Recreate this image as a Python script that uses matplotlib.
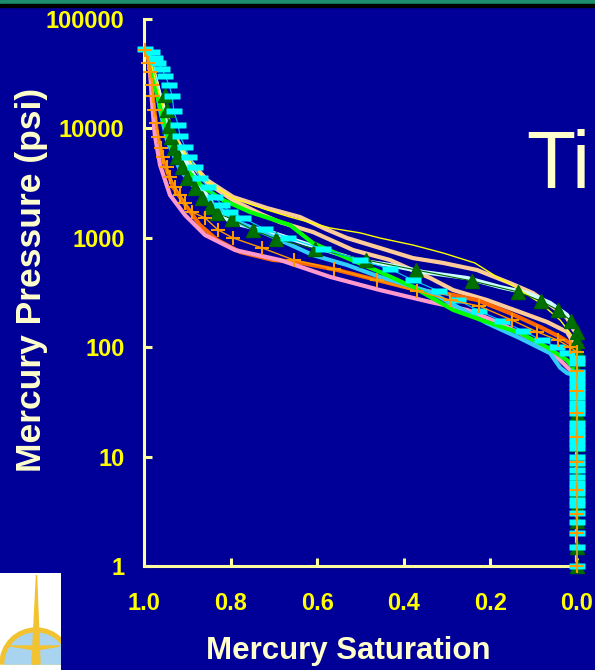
import matplotlib.pyplot as plt
import matplotlib.patches as mpatches
from matplotlib.path import Path

# ---- data ----
x_ticks = [1.0, 0.8, 0.6, 0.4, 0.2, 0.0]
x_tick_labels = ["1.0", "0.8", "0.6", "0.4", "0.2", "0.0"]
y_ticks = [1, 10, 100, 1000, 10000, 100000]
y_tick_labels = ["1", "10", "100", "1000", "10000", "100000"]

# cyan rectangle markers
cyan_x = [0.998, 0.982, 0.975, 0.968, 0.958, 0.951, 0.942, 0.935, 0.931, 0.921,
          0.917, 0.905, 0.896, 0.882, 0.871, 0.852, 0.836, 0.820, 0.801, 0.771,
          0.721, 0.667, 0.587, 0.501, 0.432, 0.379, 0.319, 0.275, 0.226, 0.173,
          0.125, 0.081, 0.046, 0.023,
          0.0, 0.0, 0.0, 0.0, 0.0, 0.0, 0.0, 0.0, 0.0, 0.0, 0.0, 0.0, 0.0, 0.0,
          0.0, 0.0, 0.0, 0.0, 0.0, 0.0, 0.0, 0.0, 0.0, 0.0, 0.0, 0.0, 0.0, 0.0,
          0.0, 0.0, 0.0]
cyan_y = [53200, 49900, 44000, 39600, 34900, 30100, 24900, 19800, 14400, 10700,
          8530, 6760, 5480, 4440, 3520, 2910, 2360, 1990, 1720, 1520,
          1200, 995, 790, 627, 519, 411, 326, 270, 214, 174,
          141, 116, 100, 88.5,
          79.6, 71.7, 59.3, 53.4, 48.1, 43.3, 38.9, 35.1, 30.9, 27.8, 25.0, 20.3,
          18.3, 16.4, 14.8, 13.3, 12.0, 9.9, 8.7, 7.5, 6.5, 5.7, 5.2, 4.6, 4.0,
          3.6, 3.05, 2.5, 2.0, 1.5, 1.0]

# dark green triangles
tri_x = [0.951, 0.947, 0.942, 0.938, 0.931, 0.924, 0.912, 0.901, 0.882, 0.866,
         0.848, 0.831, 0.797, 0.748, 0.695, 0.605, 0.487, 0.372, 0.242, 0.136,
         0.083, 0.044, 0.014, 0.0, 0.0,
         0.0, 0.0, 0.0, 0.0, 0.0, 0.0, 0.0, 0.0, 0.0, 0.0, 0.0, 0.0, 0.0, 0.0, 0.0]
tri_y = [20200, 14700, 10500, 8340, 6620, 5480, 4440, 3520, 2850, 2310,
         1910, 1690, 1480, 1180, 975, 790, 627, 508, 403, 320,
         264, 219, 174, 138, 114,
         95, 78, 60, 45, 35, 25, 18, 13, 9.5, 7.0, 5.0, 3.6, 2.6, 1.5, 1.0]

# orange plus markers (thin line)
plus_x = [0.998, 0.991, 0.986, 0.982, 0.979, 0.977, 0.972, 0.968, 0.961, 0.956,
          0.947, 0.940, 0.928, 0.917, 0.905, 0.889, 0.859, 0.829, 0.794, 0.727,
          0.654, 0.561, 0.462, 0.370, 0.293, 0.226, 0.150, 0.092, 0.044, 0.016,
          0.0, 0.0, 0.0, 0.0, 0.0, 0.0, 0.0, 0.0, 0.0, 0.0]
plus_y = [52000, 39600, 32800, 24900, 19800, 14700, 11200, 8340, 6620, 5480,
          4440, 3590, 2910, 2460, 2080, 1720, 1520, 1180, 995, 807,
          627, 519, 411, 326, 270, 238, 177, 138, 116, 100,
          90, 60, 40, 25, 15, 9, 5, 3, 2, 1]

# plain curves
peach1_x = [0.99, 0.975, 0.963, 0.933, 0.901, 0.855, 0.794, 0.716, 0.640, 0.580,
            0.531, 0.455, 0.379, 0.309, 0.231, 0.155, 0.102, 0.055, 0.023, 0.012, 0.0, 0.0]
peach1_y = [50000, 30000, 19400, 9080, 5480, 3380, 2360, 1870, 1550, 1200,
            995, 807, 653, 589, 508, 386, 313, 233, 185, 153, 130, 1]

peach2_x = [0.99, 0.975, 0.963, 0.933, 0.901, 0.855, 0.794, 0.730, 0.686, 0.610,
            0.517, 0.432, 0.339, 0.286, 0.208, 0.132, 0.069, 0.023, 0.012, 0.0]
peach2_y = [50000, 30000, 19000, 8800, 5300, 3200, 2200, 1650, 1390, 1130,
            773, 627, 429, 333, 270, 210, 170, 138, 116, 100]

yellow_x = [0.99, 0.975, 0.963, 0.933, 0.901, 0.855, 0.794, 0.716, 0.663, 0.570,
            0.501, 0.455, 0.379, 0.309, 0.236, 0.185, 0.139, 0.085, 0.039, 0.016, 0.005]
yellow_y = [50000, 29000, 19000, 8900, 5400, 3300, 2300, 1800, 1550, 1230,
            1110, 995, 859, 726, 589, 439, 348, 254, 177, 135, 116]

ltcyan_x = [0.99, 0.970, 0.950, 0.930, 0.900, 0.870, 0.840, 0.801, 0.702, 0.610,
            0.508, 0.432, 0.356, 0.254, 0.178, 0.115, 0.062, 0.023, 0.009]
ltcyan_y = [48000, 25000, 13000, 8000, 4700, 3000, 2000, 1390, 1110, 841,
            627, 564, 487, 429, 355, 313, 254, 197, 153]

orange_x = [0.99, 0.979, 0.970, 0.956, 0.933, 0.901, 0.871, 0.831, 0.778, 0.702,
            0.647, 0.554, 0.462, 0.370, 0.309, 0.231, 0.155, 0.085, 0.039, 0.016, 0.0]
orange_y = [45000, 18200, 9080, 5140, 2910, 1910, 1310, 955, 742, 627,
            601, 508, 411, 333, 313, 270, 205, 153, 124, 109, 95]

pink_x = [0.99, 0.986, 0.982, 0.975, 0.963, 0.940, 0.905, 0.859, 0.790, 0.686,
          0.570, 0.455, 0.339, 0.254, 0.178, 0.102, 0.046, 0.016, 0.0]
pink_y = [45000, 34200, 18200, 8700, 4630, 2460, 1610, 1060, 773, 627,
          439, 333, 259, 219, 166, 116, 81, 62, 55]

blue_x = [0.99, 0.975, 0.963, 0.947, 0.917, 0.882, 0.855, 0.778, 0.702, 0.610,
          0.531, 0.455, 0.339, 0.208, 0.132, 0.062, 0.039, 0.023, 0.009, 0.0]
blue_y = [48000, 27700, 14700, 7830, 4170, 2850, 2220, 1370, 1020, 696,
          564, 439, 320, 166, 121, 88, 65, 58, 56, 50]

green_x = [0.99, 0.975, 0.963, 0.951, 0.935, 0.901, 0.864, 0.818, 0.755, 0.663,
           0.610, 0.531, 0.455, 0.379, 0.286, 0.208, 0.132, 0.069, 0.023, 0.009, 0.0]
green_y = [48000, 25000, 15700, 10300, 6350, 4170, 2910, 2220, 1720, 1310,
           896, 653, 487, 355, 219, 170, 135, 100, 76, 65, 55]

BG = "#000099"
CREAM = "#FFFFCC"
SPINE = "#FFFFA0"

plt.rcParams["font.family"] = ["Liberation Sans", "DejaVu Sans"]

fig = plt.figure(figsize=(5.95, 6.70), dpi=100, facecolor=BG)

# slide decoration: teal strip on top, logo box bottom-left
fig.patches.append(mpatches.Rectangle((0, 1 - 4 / 670), 1, 4 / 670, transform=fig.transFigure,
                                      color="#1B8C6C", zorder=0))
fig.patches.append(mpatches.Rectangle((0, 1 - 7 / 670), 1, 3 / 670, transform=fig.transFigure,
                                      color="#000000", zorder=0))

logo = fig.add_axes([0, 0, 61 / 595, 97 / 670])
logo.set_xlim(0, 61)
logo.set_ylim(0, 97)
logo.axis("off")
logo.add_patch(mpatches.Rectangle((0, 0), 61, 97, color="white"))
logo.add_patch(mpatches.Wedge((36, 6), 36, 0, 180, color="#F2C230"))
logo.add_patch(mpatches.Wedge((36, 6), 31, 0, 180, color="#A8D4F0"))
logo.add_patch(mpatches.Polygon([(32, 6), (40, 6), (36.5, 95)], color="#F2C230"))
logo.add_patch(mpatches.Polygon([(10, 24), (60, 24), (36, 20)], color="#F2C230"))

# slide title, only its start shows at the right edge
fig.text(526 / 595, 1 - 188 / 670, "Ti", fontsize=58, color=CREAM, va="baseline", ha="left",
         family="Liberation Sans")

ax = fig.add_axes([144 / 595, 1 - 566 / 670, (577 - 144) / 595, (566 - 19) / 670])
ax.set_facecolor(BG)
ax.set_yscale("log")
ax.set_xlim(1.0, 0.0)
ax.set_ylim(1, 100000)

lw = 3.0
ax.plot(peach1_x, peach1_y, color="#FFCC99", lw=lw, zorder=2)
ax.plot(peach2_x, peach2_y, color="#FFCC99", lw=lw, zorder=2)
ax.plot(ltcyan_x, ltcyan_y, color="#CCFFFF", lw=lw, zorder=2)
ax.plot(orange_x, orange_y, color="#FF6600", lw=lw, zorder=2)
ax.plot(pink_x, pink_y, color="#FF99CC", lw=lw, zorder=2)
ax.plot(blue_x, blue_y, color="#33CCFF", lw=lw, zorder=2)
ax.plot(green_x, green_y, color="#00FF00", lw=lw, zorder=3)
ax.plot(yellow_x, yellow_y, color="#FFFF00", lw=1.0, zorder=3)

rect = Path([(-1, -0.38), (1, -0.38), (1, 0.38), (-1, 0.38), (-1, -0.38)],
            [Path.MOVETO, Path.LINETO, Path.LINETO, Path.LINETO, Path.CLOSEPOLY])

ax.plot(tri_x, tri_y, color="#006600", lw=0.8, marker="^", ms=10, mec="#006600",
        mfc="#007000", zorder=4, clip_on=False)
ax.plot(cyan_x, cyan_y, color="#00CCFF", lw=0.8, marker=rect, ms=12, mec="none",
        mfc="#00FFFF", zorder=5, clip_on=False)
ax.plot(plus_x, plus_y, color="#FF9900", lw=1.0, marker="+", ms=10, mew=1.5,
        zorder=6, clip_on=False)

for side in ["top", "right"]:
    ax.spines[side].set_visible(False)
for side in ["left", "bottom"]:
    ax.spines[side].set_color(SPINE)
    ax.spines[side].set_linewidth(2.2)

ax.set_xticks(x_ticks)
ax.set_xticklabels(x_tick_labels)
ax.set_yticks(y_ticks)
ax.set_yticklabels(y_tick_labels)
ax.minorticks_off()
ax.tick_params(axis="both", direction="in", length=6, width=2.2, color=SPINE,
               labelcolor="#FFFF00", labelsize=17)
ax.tick_params(axis="x", pad=19)
ax.tick_params(axis="y", pad=14)
for lab in ax.get_xticklabels() + ax.get_yticklabels():
    lab.set_fontweight("bold")

ax.set_xlabel("Mercury Saturation", color=CREAM, fontsize=22.5, fontweight="bold")
ax.xaxis.set_label_coords(0.473, -0.128)
ax.set_ylabel("Mercury Pressure (psi)", color=CREAM, fontsize=25.5, fontweight="bold")
ax.yaxis.set_label_coords(-0.222, 0.523)

fig.savefig("out.png", dpi=100, facecolor=BG)
